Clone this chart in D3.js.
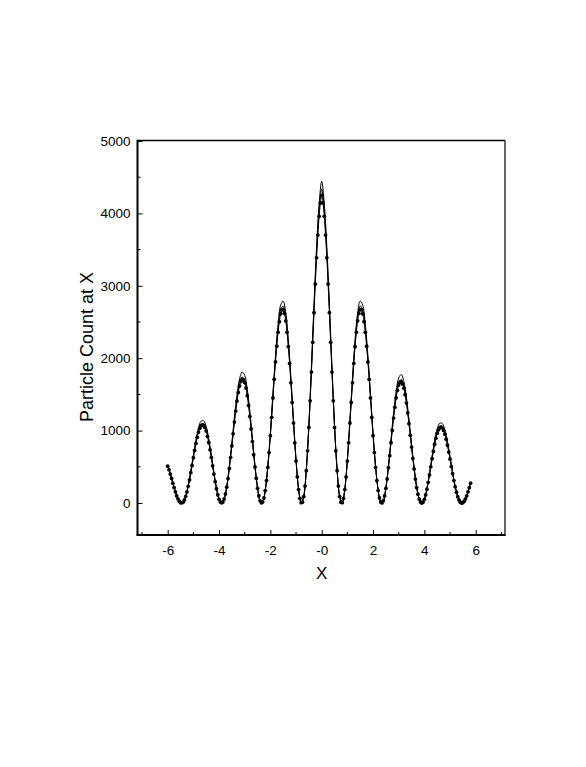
<!DOCTYPE html>
<html>
<head>
<meta charset="utf-8">
<script src="https://cdn.jsdelivr.net/npm/d3@7"></script>
<style>
  body { margin: 0; background: #fff; }
  svg { display: block; }
  text { font-family: "Liberation Sans", Arial, sans-serif; fill: #000; }
</style>
</head>
<body>
<div id="chart"></div>
<script>
// measured counts, sampled every 0.05 from x = -6.00 to x = 5.80
var dotStart = -6, dotStep = 0.05;
var dotCounts = [
  508,458,399,339,274,211,154,99,57,24,5,2,12,43,91,153,231,319,419,518,
  626,725,823,907,980,1032,1066,1080,1072,1042,994,921,836,734,629,514,400,294,197,114,
  53,13,3,14,55,124,218,338,478,627,788,955,1118,1270,1408,1526,1617,1678,1707,1701,
  1663,1587,1482,1348,1196,1022,849,667,497,339,205,100,30,3,14,70,171,310,491,696,
  930,1184,1451,1708,1949,2165,2358,2505,2614,2670,2669,2619,2516,2358,2159,1928,1660,1388,1106,831,
  579,360,185,65,5,12,89,234,447,721,1043,1411,1809,2219,2629,3024,3387,3701,3959,4145,
  4250,
  4145,3959,3701,3387,3024,2629,2219,1809,1411,1043,721,447,234,89,12,5,65,185,360,579,
  831,1106,1388,1660,1928,2159,2358,2516,2619,2669,2670,2614,2505,2358,2165,1949,1708,1451,1184,930,
  696,491,310,171,70,14,1,30,98,201,332,487,654,832,1002,1173,1322,1453,1556,1630,
  1668,1674,1645,1585,1496,1380,1245,1096,936,773,615,469,331,214,122,54,14,0,13,51,
  111,191,285,388,499,611,713,812,894,965,1012,1041,1049,1035,1002,951,881,799,704,608,
  503,407,310,224,149,88,42,12,0,5,24,57,99,154,211,274
];

// two other runs, sampled every 0.1 from x = -6.0 to x = 5.8
var runStart = -6, runStep = 0.1;
var runA = [
  520,408,280,158,58,5,13,96,245,444,664,872,1039,1130,1136,1054,886,667,424,209,
  56,3,58,231,507,835,1185,1492,1714,1809,1763,1571,1268,900,527,217,32,15,179,513,
  972,1516,2037,2464,2732,2789,2629,2256,1735,1156,605,193,5,93,467,1090,1890,2747,3539,4137,
  4441,
  4137,3539,2747,1890,1090,467,93,5,193,605,1156,1735,2256,2629,2789,2732,2464,2037,1516,972,
  513,179,15,32,213,516,882,1243,1540,1728,1774,1680,1463,1162,819,497,227,57,0,54,
  202,411,648,861,1023,1103,1097,1008,847,644,431,237,93,13,5,60,161,286
];
var runB = [
  518,407,279,157,58,5,12,93,236,427,639,839,1000,1087,1093,1014,853,642,408,201,
  54,3,56,222,488,804,1140,1436,1649,1741,1696,1512,1220,866,507,209,31,14,174,501,
  949,1480,1988,2405,2666,2722,2566,2202,1693,1128,591,189,5,91,456,1064,1845,2682,3455,4038,
  4335,
  4038,3455,2682,1845,1064,456,91,5,189,591,1128,1693,2202,2566,2722,2666,2405,1988,1480,949,
  501,174,14,31,205,497,849,1196,1482,1663,1707,1617,1408,1118,788,478,218,55,0,52,
  195,396,623,828,984,1062,1056,970,815,620,415,228,90,12,5,58,157,279
];

var xTicks = [-6, -4, -2, 0, 2, 4, 6];
var xTickLabels = ["-6", "-4", "-2", "-0", "2", "4", "6"];
var xMinor = [-7, -5, -3, -1, 1, 3, 5, 7];
var yTicks = [0, 1000, 2000, 3000, 4000, 5000];
var yMinor = [500, 1500, 2500, 3500, 4500];

var W = 586, H = 767;
var frame = {left: 137.5, right: 505, top: 140.5, bottom: 535};

var x = d3.scaleLinear().domain([-6, 6]).range([167.7, 475.7]);
var y = d3.scaleLinear().domain([0, 5000]).range([503, 141]);

var svg = d3.select("#chart").append("svg")
    .attr("width", W)
    .attr("height", H);

var dots = dotCounts.map(function(v, i) { return {x: dotStart + i * dotStep, y: v}; });
var lineA = runA.map(function(v, i) { return {x: runStart + i * runStep, y: v}; });
var lineB = runB.map(function(v, i) { return {x: runStart + i * runStep, y: v}; });

var line = d3.line()
    .x(function(d) { return x(d.x); })
    .y(function(d) { return y(d.y); })
    .curve(d3.curveCatmullRom);

[lineA, lineB, dots].forEach(function(s) {
  svg.append("path")
      .datum(s)
      .attr("d", line)
      .attr("fill", "none")
      .attr("stroke", "#000")
      .attr("stroke-width", 1);
});

svg.selectAll("circle.dot")
    .data(dots)
    .enter().append("circle")
    .attr("class", "dot")
    .attr("cx", function(d) { return x(d.x); })
    .attr("cy", function(d) { return y(d.y); })
    .attr("r", 1.9)
    .attr("fill", "#000");

// frame
svg.append("line").attr("x1", frame.left).attr("x2", frame.right).attr("y1", frame.top).attr("y2", frame.top)
    .attr("stroke", "#000").attr("stroke-width", 1.5);
svg.append("line").attr("x1", frame.right).attr("x2", frame.right).attr("y1", frame.top).attr("y2", frame.bottom)
    .attr("stroke", "#000").attr("stroke-width", 1.2);

// left axis, ticks pointing inside
var yAxis = svg.append("g")
    .attr("transform", "translate(" + frame.left + ",0)")
    .call(d3.axisLeft(y).tickValues(yTicks).tickFormat(d3.format("d"))
      .tickSizeInner(-5).tickSizeOuter(0).tickPadding(7));
yAxis.select(".domain").remove();
yAxis.selectAll("text").style("font-size", "13.5px");
yAxis.selectAll(".minor").data(yMinor).enter().append("line")
    .attr("class", "minor")
    .attr("x1", 0).attr("x2", 3)
    .attr("y1", function(d) { return y(d); }).attr("y2", function(d) { return y(d); })
    .attr("stroke", "#000");
yAxis.append("line").attr("x1", 0).attr("x2", 0).attr("y1", frame.top - 0.75).attr("y2", frame.bottom)
    .attr("stroke", "#000").attr("stroke-width", 2);

// bottom axis
var xAxis = svg.append("g")
    .attr("transform", "translate(0," + frame.bottom + ")")
    .call(d3.axisBottom(x).tickValues(xTicks)
      .tickFormat(function(d, i) { return xTickLabels[i]; })
      .tickSizeInner(-5).tickSizeOuter(0).tickPadding(10));
xAxis.select(".domain").remove();
xAxis.selectAll("text").style("font-size", "13.5px");
xAxis.selectAll(".minor").data(xMinor).enter().append("line")
    .attr("class", "minor")
    .attr("y1", 0).attr("y2", -3)
    .attr("x1", function(d) { return x(d); }).attr("x2", function(d) { return x(d); })
    .attr("stroke", "#000");
xAxis.append("line").attr("x1", frame.left - 1).attr("x2", frame.right + 0.6).attr("y1", 0).attr("y2", 0)
    .attr("stroke", "#000").attr("stroke-width", 2);

// axis titles
svg.append("text")
    .attr("x", x(0))
    .attr("y", 579)
    .attr("text-anchor", "middle")
    .style("font-size", "17px")
    .text("X");

svg.append("text")
    .attr("transform", "translate(93," + 347 + ") rotate(-90)")
    .attr("text-anchor", "middle")
    .style("font-size", "18px")
    .text("Particle Count at X");
</script>
</body>
</html>
